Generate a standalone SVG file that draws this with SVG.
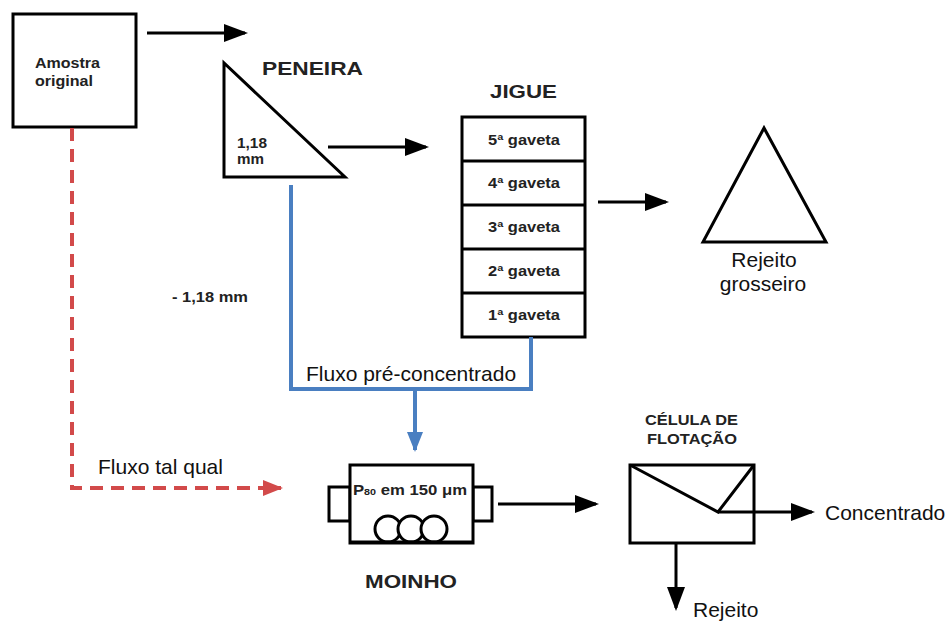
<svg xmlns="http://www.w3.org/2000/svg" width="950" height="623" viewBox="0 0 950 623">
<style>
.s{fill:#fff;stroke:#000;stroke-width:3}
.bl{fill:none;stroke:#000;stroke-width:3}
.b{font-family:"Liberation Sans",Arial,sans-serif;font-weight:bold;fill:#222}
.r{font-family:"Liberation Sans",Arial,sans-serif;fill:#111}
.t14{font-size:14px}
.t19{font-size:19px}
.t21{font-size:21px}
</style>
<defs>
<marker id="ab" markerWidth="8" markerHeight="6" refX="7" refY="3" orient="auto" markerUnits="strokeWidth"><path d="M0,0 L8,3 L0,6 Z" fill="#000"/></marker>
<marker id="au" markerWidth="5" markerHeight="4" refX="4.5" refY="2" orient="auto" markerUnits="strokeWidth"><path d="M0,0 L5,2 L0,4 Z" fill="#4a7fc1"/></marker>
<marker id="ar" markerWidth="5" markerHeight="4" refX="4.5" refY="2" orient="auto" markerUnits="strokeWidth"><path d="M0,0 L5,2 L0,4 Z" fill="#d24a4a"/></marker>
</defs>
<rect width="950" height="623" fill="#fff"/>
<g id="amostra">
<rect class="s" x="13" y="14" width="123" height="113"/>
<text class="b t14" x="35" y="68" textLength="65" lengthAdjust="spacingAndGlyphs">Amostra</text>
<text class="b t14" x="35" y="86" textLength="58" lengthAdjust="spacingAndGlyphs">original</text>
</g>
<g id="peneira">
<polygon class="s" points="224,63 224,177 345,177"/>
<text class="b t19" x="262" y="75" textLength="101" lengthAdjust="spacingAndGlyphs">PENEIRA</text>
<text class="b t14" x="237" y="148" textLength="30" lengthAdjust="spacingAndGlyphs">1,18</text>
<text class="b t14" x="237" y="164" textLength="27" lengthAdjust="spacingAndGlyphs">mm</text>
</g>
<g id="jigue">
<text class="b t19" x="490" y="98" textLength="67" lengthAdjust="spacingAndGlyphs">JIGUE</text>
<rect class="s" x="462" y="117" width="123" height="220"/>
<line class="bl" x1="462" y1="161" x2="585" y2="161"/>
<line class="bl" x1="462" y1="205" x2="585" y2="205"/>
<line class="bl" x1="462" y1="249" x2="585" y2="249"/>
<line class="bl" x1="462" y1="293" x2="585" y2="293"/>
<g class="b t14">
<text x="488" y="145" textLength="72" lengthAdjust="spacingAndGlyphs">5ª gaveta</text>
<text x="488" y="188" textLength="72" lengthAdjust="spacingAndGlyphs">4ª gaveta</text>
<text x="488" y="232" textLength="72" lengthAdjust="spacingAndGlyphs">3ª gaveta</text>
<text x="488" y="276" textLength="72" lengthAdjust="spacingAndGlyphs">2ª gaveta</text>
<text x="488" y="320" textLength="72" lengthAdjust="spacingAndGlyphs">1ª gaveta</text>
</g>
</g>
<g id="rejeito-grosseiro">
<polygon class="s" points="764,128 703,242 826,242"/>
<text class="r t21" x="764" y="267" text-anchor="middle">Rejeito</text>
<text class="r t21" x="763" y="291" text-anchor="middle">grosseiro</text>
</g>
<g id="moinho">
<rect class="s" x="329" y="487" width="21" height="34"/>
<rect class="s" x="473" y="487" width="19" height="34"/>
<rect class="s" x="350" y="465" width="123" height="78"/>
<circle class="s" cx="388" cy="529" r="13"/>
<circle class="s" cx="411" cy="529" r="13"/>
<circle class="s" cx="434" cy="529" r="13"/>
<line class="bl" x1="350" y1="542" x2="473" y2="542"/>
<text class="b" font-size="14" x="353" y="495" textLength="114" lengthAdjust="spacingAndGlyphs">P<tspan font-size="9">80</tspan> em 150 μm</text>
<text class="b t19" x="365" y="588" textLength="92" lengthAdjust="spacingAndGlyphs">MOINHO</text>
</g>
<g id="celula">
<text class="b t14" x="645" y="425" textLength="93" lengthAdjust="spacingAndGlyphs">CÉLULA DE</text>
<text class="b t14" x="647" y="444" textLength="90" lengthAdjust="spacingAndGlyphs">FLOTAÇÃO</text>
<rect class="s" x="630" y="465" width="124" height="78"/>
<polyline class="bl" points="630,465 718,512 754,465"/>
</g>
<text class="b t14" x="172" y="302" textLength="76" lengthAdjust="spacingAndGlyphs">- 1,18 mm</text>
<text class="r t21" x="306" y="381">Fluxo pré-concentrado</text>
<text class="r t21" x="98" y="474">Fluxo tal qual</text>
<text class="r t21" x="825" y="520">Concentrado</text>
<text class="r t21" x="693" y="617">Rejeito</text>
<g id="connectors">
<line class="bl" x1="147" y1="33" x2="245" y2="33" marker-end="url(#ab)"/>
<line class="bl" x1="328" y1="147" x2="426" y2="147" marker-end="url(#ab)"/>
<line class="bl" x1="598" y1="202" x2="666" y2="202" marker-end="url(#ab)"/>
<line class="bl" x1="498" y1="504" x2="596" y2="504" marker-end="url(#ab)"/>
<line class="bl" x1="718" y1="512" x2="812" y2="512" marker-end="url(#ab)"/>
<line class="bl" x1="676" y1="543" x2="676" y2="608" marker-end="url(#ab)"/>
<polyline points="291,185 291,389 531,389 531,337" fill="none" stroke="#4a7fc1" stroke-width="4"/>
<line x1="415" y1="389" x2="415" y2="450" stroke="#4a7fc1" stroke-width="4" marker-end="url(#au)"/>
<polyline points="72,128 72,488 262,488" fill="none" stroke="#d24a4a" stroke-width="4" stroke-dasharray="13,8"/>
<line x1="262" y1="488" x2="281" y2="488" stroke="#d24a4a" stroke-width="4" marker-end="url(#ar)"/>
</g>
</svg>
